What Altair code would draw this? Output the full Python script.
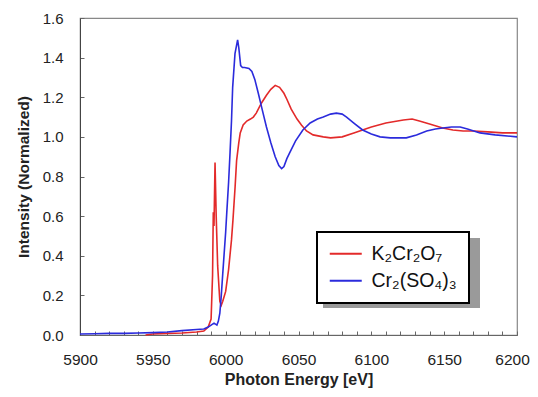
import altair as alt
import pandas as pd

# K2Cr2O7 (red)
red_e = [5945, 5950, 5960, 5970, 5980, 5985, 5988, 5990, 5991, 5991.5, 5992, 5992.7, 5993.5, 5994.5,
         5996, 5997, 5998, 6000, 6002, 6004, 6005, 6006.5, 6007.5, 6009, 6010, 6012, 6014.5, 6017,
         6019, 6021, 6024.5, 6028, 6031, 6034, 6037, 6040, 6042, 6045, 6049, 6052, 6055.5, 6060,
         6067, 6072, 6080, 6088, 6094, 6100, 6110, 6122, 6128, 6133, 6140, 6149, 6156, 6163, 6170,
         6180, 6190, 6200]
red_i = [0.0, 0.005, 0.008, 0.01, 0.015, 0.02, 0.04, 0.08, 0.3, 0.62, 0.55, 0.87, 0.6, 0.35,
         0.17, 0.15, 0.17, 0.22, 0.33, 0.48, 0.58, 0.75, 0.88, 0.97, 1.02, 1.06, 1.08, 1.09,
         1.10, 1.12, 1.17, 1.21, 1.24, 1.26, 1.25, 1.22, 1.19, 1.14, 1.09, 1.06, 1.03, 1.01,
         1.00, 0.995, 1.00, 1.02, 1.035, 1.05, 1.07, 1.085, 1.09, 1.08, 1.065, 1.045, 1.035, 1.03, 1.03,
         1.025, 1.02, 1.02]

# Cr2(SO4)3 (blue)
blue_e = [5900, 5910, 5920, 5930, 5940, 5950, 5960, 5970, 5980, 5985, 5988, 5990, 5992, 5994,
          5995, 5996, 5997, 5998, 6000, 6000.7, 6002, 6003, 6004, 6004.8, 6006.4, 6008.2, 6009,
          6010.3, 6011.5, 6013, 6016, 6018, 6020, 6022.4, 6025, 6028, 6031, 6034, 6036.5, 6038.4,
          6040, 6042, 6044, 6048, 6053, 6058, 6063, 6067, 6072, 6076, 6080, 6083, 6088, 6094, 6100,
          6106, 6113, 6124, 6131, 6138, 6144, 6149, 6155, 6161, 6166, 6174.6, 6185, 6200]
blue_i = [0.005, 0.006, 0.008, 0.008, 0.01, 0.012, 0.015, 0.022, 0.028, 0.03, 0.04, 0.05, 0.06, 0.05,
          0.07, 0.11, 0.2, 0.31, 0.52, 0.61, 0.77, 0.92, 1.08, 1.25, 1.42, 1.49, 1.45,
          1.36, 1.35, 1.35, 1.345, 1.33, 1.29, 1.22, 1.14, 1.05, 0.97, 0.90, 0.855, 0.84,
          0.85, 0.89, 0.92, 0.98, 1.035, 1.07, 1.09, 1.10, 1.115, 1.12, 1.115, 1.10, 1.07, 1.035, 1.015,
          1.0, 0.995, 0.995, 1.01, 1.03, 1.04, 1.045, 1.05, 1.05, 1.04, 1.02, 1.01, 1.0]

series = ["K\u2082Cr\u2082O\u2087", "Cr\u2082(SO\u2084)\u2083"]
colors = ["#e32a2a", "#2b2bdc"]
x_ticks = [5900, 5950, 6000, 6050, 6100, 6150, 6200]
x_minor = list(range(5900, 6201, 10))
y_ticks = [0.0, 0.2, 0.4, 0.6, 0.8, 1.0, 1.2, 1.4, 1.6]

rows = []
for i, (e, v) in enumerate(zip(red_e, red_i)):
    rows.append({"energy": e, "intensity": v, "series": series[0], "idx": i})
for i, (e, v) in enumerate(zip(blue_e, blue_i)):
    rows.append({"energy": e, "intensity": v, "series": series[1], "idx": i})
df = pd.DataFrame(rows)

W, H = 437, 317
FONT = "Liberation Sans"

xscale = alt.Scale(domain=[5900, 6200], nice=False, zero=False)
yscale = alt.Scale(domain=[0, 1.6], nice=False)

lines = alt.Chart(df).mark_line(strokeWidth=1.6).encode(
    x=alt.X("energy:Q", scale=xscale,
            axis=alt.Axis(values=x_ticks, format="d", labelFlush=False, ticks=False, grid=False,
                          labelOffset={"condition": {"test": "datum.value == 6200", "value": -5},
                                       "value": 0},
                          labelPadding=17, labelFontSize=15.5, labelColor="#222", domainColor="#666",
                          title="Photon Energy [eV]", titleFontSize=16, titleFontWeight="bold",
                          titlePadding=4, titleColor="#222")),
    y=alt.Y("intensity:Q", scale=yscale,
            axis=alt.Axis(values=y_ticks, format=".1f", ticks=False, grid=False, labelPadding=17,
                          labelFontSize=15, labelColor="#222", domainColor="#444",
                          title="Intensity (Normalized)", titleFontSize=15.5, titleFontWeight="bold",
                          titlePadding=11, titleColor="#222")),
    color=alt.Color("series:N", scale=alt.Scale(domain=series, range=colors),
                    legend=alt.Legend(title=None, orient="none", legendX=237, legendY=214,
                                      symbolType="M-2,0H2", symbolSize=256, symbolStrokeWidth=2,
                                      symbolOffset=7, labelFontSize=19.5, labelFont=FONT,
                                      labelColor="#111", labelOffset=16, padding=12, rowPadding=6,
                                      strokeColor="black", fillColor="white")),
    order=alt.Order("idx:Q"),
)

ticks = alt.Chart(df).mark_line(opacity=0).encode(
    x=alt.X("energy:Q", scale=xscale,
            axis=alt.Axis(orient="top", offset=-H, values=x_minor, labels=False, domain=False,
                          grid=False, tickSize=4, tickColor="#666", title=None)),
    y=alt.Y("intensity:Q", scale=yscale,
            axis=alt.Axis(orient="right", offset=-W, values=y_ticks, labels=False, domain=False,
                          grid=False, tickSize=4, tickColor="#666", title=None)),
    detail="series:N",
)

shadow = alt.Chart(pd.DataFrame({"a": [0]})).mark_rect(color="#9a9a9a").encode(
    x=alt.value(243), x2=alt.value(400), y=alt.value(220), y2=alt.value(290),
)

chart = alt.layer(shadow, ticks, lines).resolve_axis(x="independent", y="independent").properties(
    width=W, height=H,
    autosize=alt.AutoSizeParams(type="none"),
    padding={"left": 72, "top": 10, "right": 13, "bottom": 54},
).configure(font=FONT).configure_view(stroke="#888", strokeWidth=1.2).configure_legend(strokeWidth=2)

chart.save("out.html", embed_options={"renderer": "svg", "actions": False})
